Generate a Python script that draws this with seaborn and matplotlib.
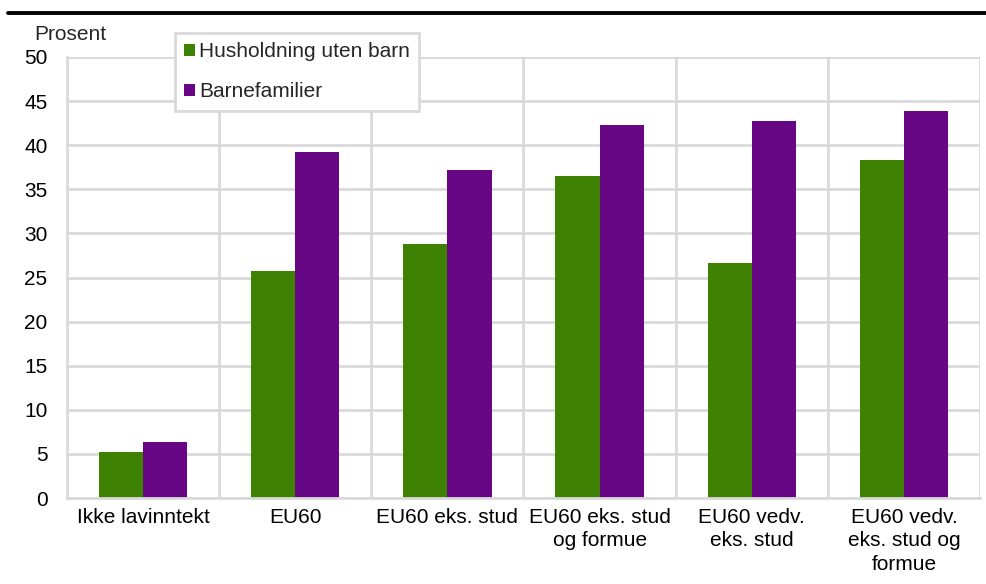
import matplotlib
matplotlib.use("Agg")
import matplotlib.pyplot as plt
import seaborn as sns
import pandas as pd
from matplotlib.lines import Line2D
from matplotlib.patches import Patch

categories = ["Ikke lavinntekt", "EU60", "EU60 eks. stud", "EU60 eks. stud\nog formue",
              "EU60 vedv.\neks. stud", "EU60 vedv.\neks. stud og\nformue"]
series_names = ["Husholdning uten barn", "Barnefamilier"]
uten_barn = [5.2, 25.7, 28.8, 36.5, 26.6, 38.3]
barnefamilier = [6.4, 39.2, 37.2, 42.3, 42.7, 43.9]
yticks = [0, 5, 10, 15, 20, 25, 30, 35, 40, 45, 50]

colors = ["#3F8203", "#680785"]

df = pd.DataFrame({
    "Kategori": categories * 2,
    "Serie": [series_names[0]] * len(categories) + [series_names[1]] * len(categories),
    "Prosent": uten_barn + barnefamilier,
})

sns.set_style("white")
plt.rcParams["font.family"] = ["Liberation Sans", "DejaVu Sans"]
FS = 15

fig = plt.figure(figsize=(9.87, 5.84), dpi=100)
ax = fig.add_axes([67 / 987, 1 - 498 / 584, (980 - 67) / 987, (498 - 57) / 584])

sns.barplot(data=df, x="Kategori", y="Prosent", hue="Serie", palette=colors,
            width=0.58, gap=0, saturation=1, ax=ax, legend=False, edgecolor="none")

ax.set_ylim(0, 50)
ax.set_xlim(-0.5, len(categories) - 0.5)
ax.set_yticks(yticks)
ax.set_xlabel("")
ax.set_ylabel("")
ax.tick_params(axis="both", length=0, labelsize=FS, colors="#000000")
ax.tick_params(axis="y", pad=14)
ax.tick_params(axis="x", pad=7)
for lbl in ax.get_xticklabels():
    lbl.set_linespacing(1.3)

grid_c = "#D9D9D9"
ax.yaxis.grid(True, color=grid_c, linewidth=2)
ax.set_xticks([i + 0.5 for i in range(len(categories) - 1)], minor=True)
ax.xaxis.grid(True, which="minor", color=grid_c, linewidth=2)
ax.xaxis.grid(False, which="major")
ax.tick_params(axis="x", which="minor", length=0)
ax.set_axisbelow(True)
for side in ["top", "right"]:
    ax.spines[side].set_visible(False)
for side in ["left", "bottom"]:
    ax.spines[side].set_color(grid_c)
    ax.spines[side].set_linewidth(2)
ax.axvline(len(categories) - 0.5, color=grid_c, linewidth=2, zorder=0)

handles = [Patch(facecolor=c, edgecolor="none") for c in colors]
leg = fig.legend(handles, series_names, loc="upper left",
                 bbox_to_anchor=(175 / 987, 1 - 33 / 584), frameon=True,
                 fontsize=FS, handlelength=0.5, handleheight=0.5, handletextpad=0.2,
                 labelspacing=1.0, borderpad=0.45, fancybox=False, borderaxespad=0)
leg.get_frame().set_edgecolor(grid_c)
leg.get_frame().set_linewidth(2)
leg.get_frame().set_facecolor("white")
leg.get_frame().set_alpha(1)

fig.text(70 / 987, 1 - 34 / 584, "Prosent", fontsize=FS, ha="center", va="center")
fig.add_artist(Line2D([8 / 987, 1], [1 - 13 / 584, 1 - 13 / 584], color="black", linewidth=2.8,
                      transform=fig.transFigure))

fig.savefig("out.png", dpi=100)
